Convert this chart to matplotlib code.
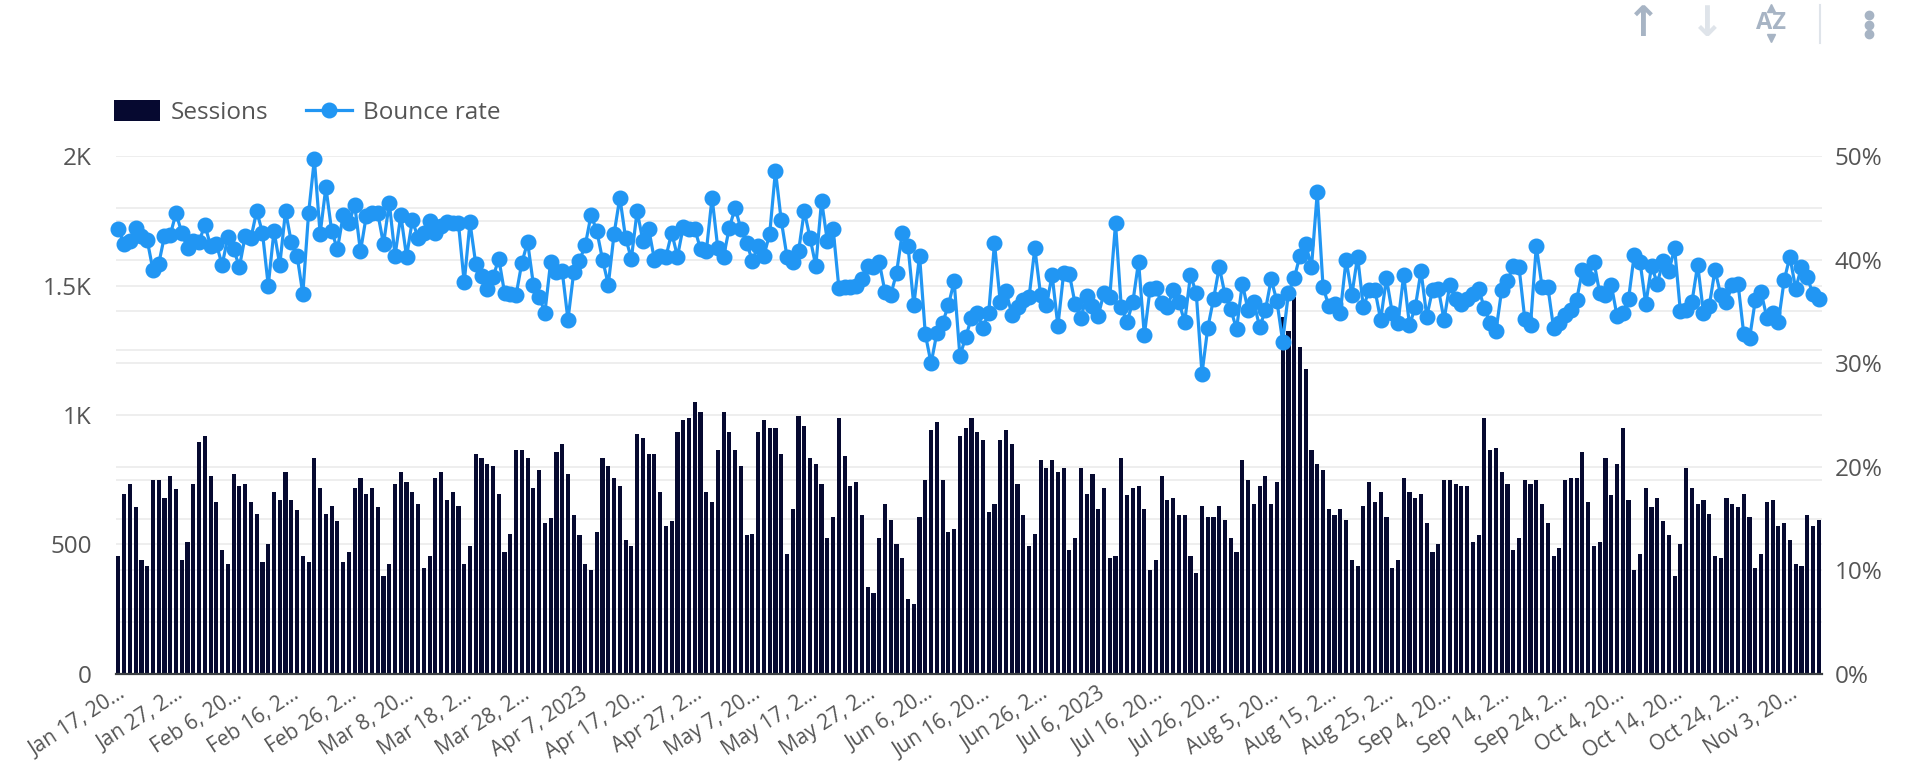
import numpy as np
import pandas as pd
import matplotlib
matplotlib.use("Agg")
import matplotlib.pyplot as plt
from matplotlib.lines import Line2D
from matplotlib.patches import Patch
from matplotlib.transforms import blended_transform_factory

# daily values, starting 2023-01-17
start_date = "2023-01-17"

sessions = [
    456, 695, 733, 643, 440, 417, 749, 749, 680, 764,
    713, 440, 509, 733, 895, 918, 764, 664, 479, 425,
    772, 726, 733, 664, 618, 432, 501, 703, 672, 780,
    672, 634, 456, 432, 834, 718, 618, 650, 589, 433,
    471, 718, 756, 695, 718, 643, 379, 425, 733, 780,
    741, 703, 658, 410, 456, 756, 780, 672, 703, 650,
    425, 494, 848, 834, 811, 803, 695, 471, 540, 866,
    866, 834, 718, 787, 581, 601, 857, 889, 772, 612,
    535, 425, 402, 548, 834, 803, 756, 726, 517, 494,
    926, 911, 848, 848, 703, 571, 589, 934, 980, 988,
    1050, 1011, 703, 664, 866, 1011, 934, 866, 803, 535,
    540, 934, 980, 949, 949, 848, 463, 635, 997, 957,
    834, 811, 733, 525, 604, 988, 843, 726, 741, 612,
    334, 311, 525, 658, 596, 502, 448, 288, 271, 604,
    749, 943, 974, 749, 548, 558, 920, 949, 988, 934,
    903, 627, 658, 903, 943, 889, 733, 612, 494, 540,
    826, 795, 826, 780, 795, 479, 525, 795, 695, 772,
    635, 718, 448, 456, 834, 689, 718, 726, 635, 402,
    440, 764, 672, 680, 612, 612, 456, 388, 650, 604,
    604, 650, 596, 525, 471, 826, 749, 658, 726, 764,
    658, 741, 1378, 1324, 1456, 1264, 1179, 866, 811, 787,
    635, 612, 635, 596, 440, 417, 650, 741, 664, 703,
    604, 410, 440, 756, 703, 680, 695, 581, 471, 502,
    749, 749, 733, 726, 726, 509, 535, 988, 866, 872,
    780, 733, 479, 525, 749, 733, 749, 658, 581, 456,
    486, 749, 756, 756, 857, 664, 494, 509, 834, 689,
    811, 949, 672, 402, 463, 718, 643, 680, 589, 535,
    379, 502, 795, 718, 658, 672, 618, 456, 448, 680,
    658, 643, 695, 604, 410, 463, 664, 672, 572, 581,
    517, 425, 417, 612, 572, 596,
]

bounce_rate = [
    43.0, 41.5, 41.8, 43.1, 42.3, 41.9, 39.0, 39.6, 42.3, 42.4,
    44.5, 42.6, 41.1, 41.8, 41.7, 43.4, 41.3, 41.5, 39.5, 42.2,
    41.0, 39.3, 42.3, 42.1, 44.7, 42.6, 37.5, 42.8, 39.5, 44.7,
    41.7, 40.4, 36.7, 44.5, 49.7, 42.5, 47.0,
    42.8, 41.0, 44.3, 43.5, 45.3, 40.8, 44.2, 44.5, 44.5, 41.5,
    45.5, 40.4, 44.3, 40.3, 43.8, 42.1, 42.6, 43.7, 42.6, 43.3,
    43.6, 43.5, 43.5, 37.8, 43.6, 39.6, 38.4, 37.2, 38.3, 40.1,
    36.8, 36.7, 36.6, 39.7, 41.7, 37.6, 36.4, 34.9,
    39.8, 38.8, 38.9, 34.2, 38.8, 39.9, 41.4, 44.3, 42.8, 40.0,
    37.6, 42.5, 46.0, 42.1, 40.1, 44.7, 41.8, 43.0, 40.0, 40.4,
    40.3, 42.6, 40.3, 43.2, 43.0, 43.0, 41.0, 40.8, 46.0, 41.1,
    40.3, 43.1, 45.0, 43.0, 41.6, 39.9, 41.3,
    40.4, 42.5, 48.6, 43.8, 40.3, 39.8, 40.8, 44.7, 42.1, 39.4,
    45.7, 41.8, 43.0, 37.3, 37.4, 37.4, 37.5, 38.1, 39.4, 39.3,
    39.8, 36.9, 36.6, 38.7, 42.6, 41.3, 35.6, 40.4, 32.8, 30.0,
    32.9, 33.9, 35.6, 37.9, 30.7, 32.5, 34.4, 34.9, 33.4, 34.9,
    41.6, 35.9, 37.0, 34.7, 35.4, 36.1, 36.4, 41.1, 36.6, 35.6,
    38.5, 33.6, 38.7, 38.6, 35.7, 34.4, 36.5, 35.5, 34.6, 36.8,
    36.4, 43.5, 35.4, 34.0, 35.9, 39.8, 32.7, 37.2, 37.3, 35.8,
    35.4, 37.1, 35.9, 34.0, 38.5, 36.8, 29.0, 33.4,
    36.2, 39.3, 36.6, 35.2, 33.3, 37.7, 35.1, 35.9, 33.5, 35.1,
    38.1, 36.0, 32.1, 36.8, 38.2, 40.4, 41.5, 39.3, 46.5, 37.4,
    35.5, 35.7, 34.9, 40.0, 36.6, 40.3, 35.4, 37.1, 37.1, 34.2,
    38.2, 34.9, 33.9, 38.5, 33.7, 35.4, 38.9, 34.5,
    37.1, 37.2, 34.2, 37.6, 36.2, 35.7, 36.2, 36.7, 37.2, 35.3,
    33.9, 33.1, 37.1, 37.9, 39.4, 39.3, 34.3, 33.7, 41.3, 37.4,
    37.4, 33.4, 33.9, 34.7, 35.1, 36.1, 39.0, 38.2, 39.8, 36.8,
    36.6, 37.6, 34.6, 34.9, 36.2, 40.5, 39.8, 35.7,
    39.4, 37.7, 39.9, 38.9, 41.1, 35.0, 35.1, 35.9, 39.5, 34.9,
    35.5, 39.0, 36.6, 35.9, 37.6, 37.7, 32.8, 32.4, 36.1, 36.9,
    34.4, 34.9, 34.0, 38.0, 40.3, 37.2, 39.3, 38.3, 36.7, 36.2,
]

# x labels as shown (truncated), one every 10 days
tick_labels = [
    "Jan 17, 20...", "Jan 27, 2...", "Feb 6, 20...", "Feb 16, 2...",
    "Feb 26, 2...", "Mar 8, 20...", "Mar 18, 2...", "Mar 28, 2...",
    "Apr 7, 2023", "Apr 17, 20...", "Apr 27, 2...", "May 7, 20...",
    "May 17, 2...", "May 27, 2...", "Jun 6, 20...", "Jun 16, 20...",
    "Jun 26, 2...", "Jul 6, 2023", "Jul 16, 20...", "Jul 26, 20...",
    "Aug 5, 20...", "Aug 15, 2...", "Aug 25, 2...", "Sep 4, 20...",
    "Sep 14, 2...", "Sep 24, 2...", "Oct 4, 20...", "Oct 14, 20...",
    "Oct 24, 2...", "Nov 3, 20...",
]

left_ticks = [0, 500, 1000, 1500, 2000]
left_labels = ["0", "500", "1K", "1.5K", "2K"]
right_ticks = [0, 10, 20, 30, 40, 50]
right_labels = ["0%", "10%", "20%", "30%", "40%", "50%"]

BAR = "#060930"
LINE = "#2196f3"
TXT = "#555555"
GRID = "#eeeeee"
ICON = "#a7b4c4"
ICON_LIGHT = "#dfe4ea"

plt.rcParams['font.family'] = ['Open Sans', 'DejaVu Sans']

dates = pd.date_range(start_date, periods=len(sessions), freq="D")
x = np.arange(len(dates))
offs = (dates - dates[0]).days
tick_pos = x[offs % 10 == 0]

W, H = 1914, 770
fig = plt.figure(figsize=(W / 100, H / 100), dpi=100)
ax = fig.add_axes([115.5 / W, 96.2 / H, 1706.1 / W, 517.6 / H])
ax2 = ax.twinx()

ax.set_xlim(-0.5, len(x) - 0.5)
ax.set_ylim(0, 2000)
ax2.set_ylim(0, 50)

# gridlines for both scales, behind the bars
for v in np.arange(250, 2001, 250):
    ax.axhline(v, color=GRID, lw=1.4, zorder=0)
tr = blended_transform_factory(ax.transAxes, ax2.transData)
for v in np.arange(5, 51, 5):
    ax.plot([0, 1], [v, v], transform=tr, color=GRID, lw=1.4, zorder=0)

ax.bar(x, sessions, width=0.72, color=BAR, edgecolor="none", zorder=2)
ax2.plot(x, bounce_rate, color=LINE, lw=2.3, marker="o", ms=10.5,
         clip_on=False, zorder=3)

for a in (ax, ax2):
    for s in ("top", "left", "right"):
        a.spines[s].set_visible(False)
ax2.spines["bottom"].set_visible(False)
ax.spines["bottom"].set_color("#3c4043")
ax.spines["bottom"].set_linewidth(1.6)
ax.spines["bottom"].set_zorder(4)

ax.set_yticks(left_ticks)
ax.set_yticklabels(left_labels)
ax2.set_yticks(right_ticks)
ax2.set_yticklabels(right_labels)
ax.tick_params(axis="y", length=0, pad=17, labelsize=17.5, labelcolor=TXT)
ax2.tick_params(axis="y", length=0, pad=9.5, labelsize=17.5, labelcolor=TXT)

ax.set_xticks(tick_pos)
ax.set_xticklabels(tick_labels, rotation=33, ha="right",
                   rotation_mode="anchor")
ax.tick_params(axis="x", length=0, pad=7, labelsize=15, labelcolor=TXT)

handles = [Patch(facecolor=BAR, edgecolor="none"),
           Line2D([], [], color=LINE, lw=2.3, marker="o", ms=10.5)]
fig.legend(handles, ["Sessions", "Bounce rate"], loc="center left",
           bbox_to_anchor=(113.5 / W, 1 - 112.5 / H), ncol=2, frameon=False,
           fontsize=17.5, labelcolor=TXT, borderpad=0, borderaxespad=0,
           handlelength=1.9, handleheight=0.95, handletextpad=0.45,
           columnspacing=1.55)

# toolbar icons at top right
fig.text(1643 / W, 1 - 24 / H, "\u2191", family="DejaVu Sans", fontsize=30,
         fontweight="bold", color=ICON, ha="center", va="center")
fig.text(1707 / W, 1 - 24 / H, "\u2193", family="DejaVu Sans", fontsize=30,
         fontweight="bold", color=ICON_LIGHT, ha="center", va="center")
fig.text(1771 / W, 1 - 23 / H, "AZ", fontsize=17, fontweight="bold",
         color=ICON, ha="center", va="center")
fig.add_artist(Line2D([1771 / W], [1 - 8 / H], marker="^", ms=6,
                      color=ICON, ls="none"))
fig.add_artist(Line2D([1771 / W], [1 - 38 / H], marker="v", ms=6,
                      color=ICON, ls="none"))
fig.add_artist(Line2D([1820 / W, 1820 / W], [1 - 5 / H, 1 - 43 / H],
                      color=ICON_LIGHT, lw=1.5))
fig.add_artist(Line2D([1869 / W] * 3, [1 - 15 / H, 1 - 24.5 / H, 1 - 34 / H],
                      marker="o", ms=6, color=ICON, ls="none"))

fig.savefig("out.png", dpi=100, facecolor="white")
